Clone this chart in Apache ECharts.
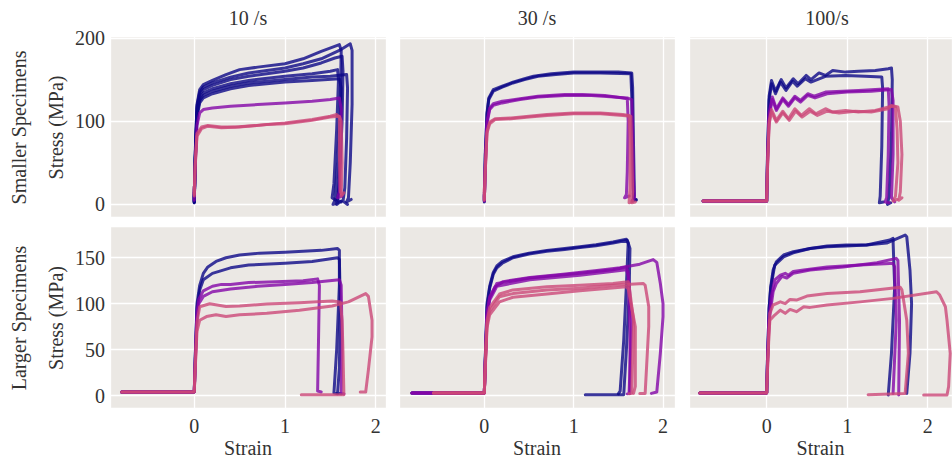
<!DOCTYPE html>
<html>
<head>
<meta charset="utf-8">
<script src="https://cdn.jsdelivr.net/npm/echarts@6/dist/echarts.min.js"></script>
<style>
  html, body { margin: 0; padding: 0; background: #ffffff; }
  #chart { width: 952px; height: 461px; }
</style>
</head>
<body>
<div id="chart"></div>
<script>
// Column titles (strain rate) and row titles (specimen size)
const rateTitles = ['10 /s', '30 /s', '100/s'];
const rowTitles = ['Smaller Specimens', 'Larger Specimens'];
const stressTitle = 'Stress (MPa)';
const strainTitle = 'Strain';

// ---- Smaller specimens, 10 /s : [strain, stress MPa]
const s10_b1 = [[0,22],[0,3],[0.01,60],[0.03,120],[0.06,138],[0.1,144],[0.2,149],[0.35,156],[0.5,162],[0.7,165],[1.0,169],[1.2,175],[1.4,184],[1.6,192],[1.62,185],[1.61,120],[1.58,50],[1.55,5],[1.53,0],[1.58,2]];
const s10_b2 = [[0,18],[0,2],[0.01,55],[0.03,118],[0.06,135],[0.1,141],[0.2,146],[0.4,153],[0.6,158],[0.8,161],[1.0,164],[1.2,169],[1.4,175],[1.6,185],[1.72,193],[1.74,185],[1.74,120],[1.72,50],[1.7,8],[1.68,3],[1.73,6]];
const s10_b3 = [[0,20],[0,3],[0.01,55],[0.03,115],[0.06,132],[0.1,138],[0.2,143],[0.4,150],[0.6,154],[0.8,157],[1.0,160],[1.2,164],[1.4,170],[1.55,176],[1.63,178],[1.64,160],[1.63,100],[1.6,30],[1.58,5],[1.62,3]];
const s10_b4 = [[0,15],[0,4],[0.01,50],[0.03,110],[0.06,128],[0.1,134],[0.2,139],[0.4,145],[0.6,149],[1.0,154],[1.3,157],[1.5,160],[1.58,162],[1.59,150],[1.57,90],[1.54,25],[1.52,8],[1.56,5]];
const s10_b5 = [[0,12],[0,2],[0.01,50],[0.03,108],[0.06,125],[0.1,131],[0.2,136],[0.4,142],[0.6,146],[1.0,150],[1.3,153],[1.5,154],[1.68,156],[1.69,140],[1.68,80],[1.66,20],[1.64,4],[1.69,0]];
const s10_b6 = [[0,10],[0,3],[0.01,48],[0.03,105],[0.06,122],[0.1,128],[0.2,133],[0.4,139],[0.6,143],[1.0,147],[1.3,149],[1.6,151],[1.62,140],[1.61,70],[1.59,15],[1.57,0],[1.62,4]];
const s10_p1 = [[0,14],[0,5],[0.01,45],[0.03,95],[0.06,110],[0.1,114],[0.2,116],[0.4,118],[0.7,120],[1.0,122],[1.3,124],[1.5,126],[1.6,128],[1.62,115],[1.61,60],[1.6,15],[1.58,8],[1.63,10]];
const s10_k1 = [[0,22],[0,12],[0.01,50],[0.03,85],[0.08,93],[0.15,95],[0.3,93],[0.45,93],[0.7,95],[1.0,98],[1.3,102],[1.5,106],[1.57,108],[1.6,105],[1.6,60],[1.61,15],[1.63,12]];
const s10_k2 = [[0,20],[0,10],[0.01,45],[0.03,82],[0.08,91],[0.15,94],[0.3,92],[0.5,93],[0.8,96],[1.0,97],[1.3,101],[1.5,105],[1.6,106],[1.62,100],[1.63,50],[1.62,10],[1.65,14]];

// ---- Smaller specimens, 30 /s
const s30_b1 = [[0,15],[0,4],[0.01,60],[0.03,110],[0.05,128],[0.1,138],[0.2,142],[0.32,147],[0.45,151],[0.55,154],[0.75,157],[1.0,159],[1.3,159],[1.5,159],[1.65,158],[1.66,140],[1.67,70],[1.68,10],[1.66,4],[1.7,6]];
const s30_b2 = [[0,12],[0,3],[0.01,55],[0.03,108],[0.05,126],[0.1,136],[0.2,141],[0.32,146],[0.45,150],[0.6,154],[0.8,156],[1.0,158],[1.3,158],[1.64,157],[1.65,130],[1.66,60],[1.67,8],[1.7,5]];
const s30_p1 = [[0,12],[0,4],[0.01,45],[0.03,100],[0.06,116],[0.1,121],[0.2,124],[0.4,127],[0.6,130],[0.9,132],[1.1,132],[1.35,131],[1.55,128],[1.6,127],[1.61,100],[1.6,40],[1.59,12],[1.57,8],[1.62,10]];
const s30_p2 = [[0,10],[0,5],[0.01,42],[0.03,97],[0.06,114],[0.1,119],[0.2,122],[0.4,126],[0.6,129],[0.9,131],[1.2,131],[1.45,129],[1.6,128],[1.65,126],[1.66,90],[1.67,30],[1.68,8],[1.66,5]];
const s30_k1 = [[0,20],[0,6],[0.01,40],[0.03,88],[0.06,99],[0.12,103],[0.3,104],[0.5,106],[0.7,108],[1.0,110],[1.3,110],[1.55,108],[1.62,107],[1.63,80],[1.63,20],[1.62,2],[1.66,4]];
const s30_k2 = [[0,18],[0,5],[0.01,38],[0.03,86],[0.06,97],[0.12,102],[0.3,103],[0.5,105],[0.7,107],[1.0,109],[1.3,109],[1.55,107],[1.64,106],[1.65,70],[1.66,15],[1.65,2],[1.69,3]];

// ---- Smaller specimens, 100 /s
const s100_b1 = [[-0.79,4],[0,4],[0.01,60],[0.03,130],[0.06,149],[0.11,136],[0.18,150],[0.24,140],[0.33,151],[0.39,145],[0.49,155],[0.55,150],[0.65,158],[0.73,155],[0.82,161],[0.98,159],[1.14,160],[1.35,161],[1.51,163],[1.55,164],[1.56,150],[1.55,80],[1.52,10],[1.5,0],[1.54,2]];
const s100_b2 = [[-0.79,4],[0,4],[0.01,55],[0.03,125],[0.06,145],[0.11,133],[0.17,147],[0.24,137],[0.32,148],[0.38,142],[0.48,151],[0.55,147],[0.73,154],[0.98,155],[1.22,154],[1.43,153],[1.44,140],[1.43,70],[1.41,10],[1.4,2],[1.45,3]];
const s100_p1 = [[-0.79,4],[0,4],[0.01,50],[0.03,110],[0.07,129],[0.12,115],[0.2,128],[0.27,120],[0.35,130],[0.42,125],[0.51,133],[0.59,130],[0.73,135],[0.94,136],[1.14,137],[1.35,138],[1.51,139],[1.52,120],[1.51,60],[1.49,8],[1.47,3],[1.52,2]];
const s100_p2 = [[-0.79,4],[0,4],[0.01,48],[0.03,105],[0.07,126],[0.12,113],[0.2,126],[0.27,118],[0.35,128],[0.42,123],[0.51,131],[0.6,128],[0.75,133],[1.0,135],[1.3,136],[1.55,138],[1.57,125],[1.57,60],[1.55,8],[1.59,3]];
const s100_k1 = [[-0.79,4],[0,4],[0.01,45],[0.03,100],[0.06,114],[0.12,101],[0.2,112],[0.27,103],[0.35,115],[0.43,107],[0.53,115],[0.61,109],[0.73,115],[0.82,111],[0.98,113],[1.14,111],[1.35,113],[1.55,118],[1.6,117],[1.62,90],[1.63,50],[1.6,10],[1.57,4],[1.62,6]];
const s100_k2 = [[-0.79,4],[0,4],[0.01,42],[0.03,96],[0.06,111],[0.12,99],[0.2,110],[0.28,101],[0.36,112],[0.44,105],[0.54,112],[0.63,107],[0.75,112],[0.9,110],[1.1,112],[1.3,111],[1.51,115],[1.55,119],[1.63,117],[1.66,100],[1.68,60],[1.66,15],[1.64,5],[1.68,8]];

// ---- Larger specimens, 10 /s
const l10_b1 = [[-0.8,4],[0,4],[0.01,40],[0.03,100],[0.06,120],[0.1,133],[0.15,140],[0.24,146],[0.35,150],[0.5,153],[0.72,155],[1.0,156],[1.2,157],[1.4,158],[1.58,160],[1.6,158],[1.6,120],[1.57,50],[1.54,3],[1.58,2]];
const l10_b2 = [[-0.8,4],[0,4],[0.01,38],[0.03,95],[0.06,115],[0.1,126],[0.2,133],[0.4,139],[0.6,142],[1.0,144],[1.3,146],[1.58,150],[1.6,148],[1.61,100],[1.6,30],[1.58,3],[1.62,2]];
const l10_p1 = [[-0.8,4],[0,4],[0.01,35],[0.03,90],[0.05,105],[0.1,114],[0.2,119],[0.3,121],[0.4,121],[0.6,123],[0.9,124],[1.2,125],[1.36,127],[1.38,120],[1.37,60],[1.36,5],[1.4,4]];
const l10_p2 = [[-0.8,4],[0,4],[0.01,33],[0.03,85],[0.05,100],[0.1,108],[0.2,113],[0.4,116],[0.7,119],[1.0,121],[1.3,123],[1.6,126],[1.62,120],[1.63,60],[1.62,3],[1.65,2]];
const l10_k1 = [[-0.8,4],[0,4],[0.01,30],[0.03,80],[0.06,96.7],[0.17,100],[0.35,97],[0.5,97.5],[0.8,99.6],[1.16,101],[1.52,103],[1.61,102],[1.63,82],[1.64,46],[1.65,1],[1.18,1]];
const l10_k2 = [[-0.8,4],[0,4],[0.01,28],[0.03,70],[0.06,82],[0.135,86],[0.24,88],[0.35,86],[0.5,88],[0.8,89.5],[1.16,93],[1.52,97.5],[1.7,102],[1.89,111],[1.92,108],[1.96,82],[1.96,64],[1.92,28],[1.89,4],[1.83,4]];

// ---- Larger specimens, 30 /s
const l30_b1 = [[-0.81,3],[0,3],[0.01,40],[0.03,100],[0.06,119],[0.1,134],[0.14,141],[0.2,146],[0.32,151],[0.5,155],[0.7,158],[0.9,160],[1.07,162],[1.25,164],[1.44,167],[1.59,170],[1.61,166],[1.59,120],[1.56,60],[1.52,5],[1.5,2]];
const l30_b2 = [[-0.81,3],[0,3],[0.01,38],[0.03,96],[0.06,117],[0.1,132],[0.14,139],[0.2,144],[0.32,150],[0.5,154],[0.7,157],[0.9,159],[1.07,161],[1.25,163],[1.44,166],[1.6,169],[1.63,160],[1.62,110],[1.59,50],[1.56,1],[1.13,1]];
const l30_p1 = [[-0.81,3],[0,3],[0.01,35],[0.03,90],[0.06,107.6],[0.12,118.5],[0.21,124],[0.51,128.6],[0.88,132],[1.26,136],[1.52,139],[1.74,143],[1.89,148],[1.93,145],[1.97,122],[2.0,100],[2.0,86],[1.97,46],[1.93,4],[1.87,2.5]];
const l30_p2 = [[-0.81,3],[0,3],[0.01,34],[0.03,88],[0.06,106],[0.14,122],[0.51,128],[1.07,133],[1.44,137],[1.59,140],[1.61,135],[1.65,82],[1.62,2.5],[1.6,2]];
const l30_p3 = [[-0.81,3],[0,3],[0.01,33],[0.03,86],[0.06,104],[0.14,119],[0.51,126],[1.07,131],[1.59,137],[1.61,130],[1.63,70],[1.63,2.5]];
const l30_k1 = [[-0.57,3],[0,3],[0.01,32],[0.03,82],[0.06,96],[0.17,110.5],[0.32,115],[0.7,118.5],[1.07,120],[1.44,122],[1.61,124],[1.62,120],[1.67,82],[1.65,2.5],[1.62,2]];
const l30_k2 = [[-0.57,3],[0,3],[0.01,30],[0.03,78],[0.06,92],[0.17,107.6],[0.32,111],[0.7,115],[1.07,116.7],[1.44,120],[1.78,122],[1.8,120],[1.84,97],[1.84,75],[1.8,2.5],[1.74,2.5]];
const l30_k3 = [[-0.57,3],[0,3],[0.01,28],[0.03,74],[0.06,88],[0.17,102],[0.32,107],[0.7,110.5],[1.07,114],[1.59,118.5],[1.61,116],[1.69,75],[1.69,10],[1.67,2.5]];

// ---- Larger specimens, 100 /s
const l100_b1 = [[-0.83,3],[0,3],[0.01,40],[0.03,95],[0.05,118.5],[0.08,136.6],[0.12,145.6],[0.21,153],[0.33,156.5],[0.54,160],[0.75,162.7],[0.99,163.8],[1.24,163.8],[1.49,166],[1.72,174.6],[1.74,172.8],[1.78,136.6],[1.8,100],[1.78,46],[1.74,2.5]];
const l100_b2 = [[-0.83,3],[0,3],[0.01,40],[0.03,95],[0.05,116.7],[0.1,142],[0.21,151],[0.33,155.4],[0.54,160],[0.75,162],[0.99,162.7],[1.24,163.8],[1.53,169.2],[1.57,171],[1.57,168],[1.59,118.5],[1.55,46],[1.51,0.7]];
const l100_p1 = [[-0.83,3],[0,3],[0.01,35],[0.03,85],[0.06,109],[0.1,126],[0.17,131],[0.23,133],[0.27,131],[0.33,135],[0.46,136.6],[0.75,140],[1.16,142],[1.53,143.8],[1.57,144],[1.59,140],[1.61,82],[1.57,2.5]];
const l100_p2 = [[-0.83,3],[0,3],[0.01,34],[0.03,82],[0.08,113],[0.12,122],[0.19,129.7],[0.25,128],[0.33,133],[0.54,136.6],[0.95,140],[1.37,144.6],[1.61,149.3],[1.63,147],[1.65,82],[1.64,0.7]];
const l100_k1 = [[-0.83,3],[0,3],[0.01,30],[0.03,75],[0.04,89.5],[0.08,98.6],[0.17,102],[0.23,100],[0.29,104.7],[0.37,104],[0.5,108.3],[0.75,111],[1.16,113],[1.66,117.8],[1.68,115],[1.74,82],[1.76,46],[1.72,2.5],[1.26,1]];
const l100_k2 = [[-0.83,3],[0,3],[0.01,28],[0.03,70],[0.04,82],[0.1,87.7],[0.17,93],[0.23,89.5],[0.29,93.8],[0.37,91.3],[0.46,96.7],[0.54,96],[0.75,98.6],[1.16,102],[1.57,105.8],[2.11,113],[2.15,109.4],[2.22,96.7],[2.24,82],[2.28,46],[2.26,10],[2.24,0.7],[1.95,0.7]];

// Curves per panel (row-major), each tagged with its colour group
const panelCurves = [
  [[s10_b1,'hi'],[s10_b2,'hi'],[s10_b3,'hi'],[s10_b4,'hi'],[s10_b5,'hi'],[s10_b6,'hi'],[s10_p1,'mid'],[s10_k1,'lo'],[s10_k2,'lo']],
  [[s30_b1,'hi'],[s30_b2,'hi'],[s30_p1,'mid'],[s30_p2,'mid'],[s30_k1,'lo'],[s30_k2,'lo']],
  [[s100_b1,'hi'],[s100_b2,'hi'],[s100_p1,'mid'],[s100_p2,'mid'],[s100_k1,'lo'],[s100_k2,'lo']],
  [[l10_b1,'hi'],[l10_b2,'hi'],[l10_p1,'mid'],[l10_p2,'mid'],[l10_k1,'lo'],[l10_k2,'lo']],
  [[l30_b1,'hi'],[l30_b2,'hi'],[l30_p1,'mid'],[l30_p2,'mid'],[l30_p3,'mid'],[l30_k1,'lo'],[l30_k2,'lo'],[l30_k3,'lo']],
  [[l100_b1,'hi'],[l100_b2,'hi'],[l100_p1,'mid'],[l100_p2,'mid'],[l100_k1,'lo'],[l100_k2,'lo']]
];

// Axis ranges per column (strain) and per row (stress)
const strainRanges = [[-0.929, 2.114], [-0.955, 2.134], [-0.965, 2.302]];
const stressRanges = [[-15.1, 202.4], [-13.4, 184.5]];
const stressSplits = [2, 4];

// ---- styling / layout
const groupColors = { hi: '#0d0887', mid: '#8305a7', lo: '#cc4778' };
const FONT = '"Liberation Serif", "Times New Roman", serif';
const TEXT = '#333333';
const PANEL_BG = '#ebe8e4';
const colLeft = [110, 399, 689];
const colWidth = [276, 276, 263];
const titleCenter = [248, 537, 827];
const rowTop = [36, 226];
const rowHeight = [181, 182];

const grids = [], xAxes = [], yAxes = [], series = [];
for (let r = 0; r < 2; r++) {
  for (let c = 0; c < 3; c++) {
    const i = r * 3 + c;
    grids.push({
      left: colLeft[c], top: rowTop[r], width: colWidth[c], height: rowHeight[r],
      show: true, backgroundColor: PANEL_BG, borderWidth: 0, containLabel: false
    });
    xAxes.push({
      type: 'value', gridIndex: i,
      min: strainRanges[c][0], max: strainRanges[c][1], splitNumber: 3,
      axisLine: { show: false }, axisTick: { show: false },
      splitLine: { show: true, lineStyle: { color: '#ffffff', width: 1.3 } },
      axisLabel: {
        show: r === 1, showMinLabel: false, showMaxLabel: false,
        fontFamily: FONT, fontSize: 20, color: TEXT, margin: 8
      },
      name: r === 1 ? strainTitle : '', nameLocation: 'middle', nameGap: 30,
      nameTextStyle: { fontFamily: FONT, fontSize: 20, color: TEXT }
    });
    yAxes.push({
      type: 'value', gridIndex: i,
      min: stressRanges[r][0], max: stressRanges[r][1], splitNumber: stressSplits[r],
      axisLine: { show: false }, axisTick: { show: false },
      splitLine: { show: true, lineStyle: { color: '#ffffff', width: 1.3 } },
      axisLabel: {
        show: c === 0, showMinLabel: false, showMaxLabel: false,
        fontFamily: FONT, fontSize: 20, color: TEXT, margin: 5
      }
    });
    panelCurves[i].forEach(([pts, grp]) => {
      series.push({
        type: 'line', xAxisIndex: i, yAxisIndex: i, data: pts,
        showSymbol: false, symbol: 'none', silent: true, clip: true,
        lineStyle: { color: groupColors[grp], width: 3, opacity: 0.8, join: 'round', cap: 'round' },
        z: grp === 'hi' ? 2 : (grp === 'mid' ? 3 : 4)
      });
    });
  }
}

const titleFont = '20px ' + FONT;
const graphics = [];
rateTitles.forEach((t, c) => {
  graphics.push({
    type: 'text', x: titleCenter[c], y: 18,
    style: { text: t, font: titleFont, fill: TEXT, align: 'center', verticalAlign: 'middle' }
  });
});
rowTitles.forEach((t, r) => {
  const cy = rowTop[r] + rowHeight[r] / 2 + 1;
  graphics.push({
    type: 'text', x: 19, y: cy, rotation: Math.PI / 2,
    style: { text: t, font: titleFont, fill: TEXT, align: 'center', verticalAlign: 'middle' }
  });
  graphics.push({
    type: 'text', x: 56, y: cy, rotation: Math.PI / 2,
    style: { text: stressTitle, font: titleFont, fill: TEXT, align: 'center', verticalAlign: 'middle' }
  });
});

const chart = echarts.init(document.getElementById('chart'), null, { renderer: 'svg', width: 952, height: 461 });
chart.setOption({
  animation: false,
  backgroundColor: '#ffffff',
  grid: grids,
  xAxis: xAxes,
  yAxis: yAxes,
  series: series,
  graphic: graphics
});
</script>
</body>
</html>
